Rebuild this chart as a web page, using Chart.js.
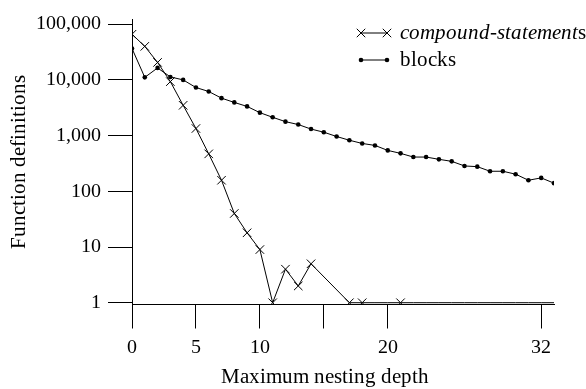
<!DOCTYPE html>
<html>
<head>
<meta charset="utf-8">
<script src="https://cdn.jsdelivr.net/npm/chart.js@4.4.1/dist/chart.umd.min.js"></script>
</head>
<body style="margin:0;padding:0;background:#ffffff;font-family:'Liberation Serif';font-size:20px">
<div style="width:586px;height:389px"><canvas id="chart" width="586" height="389"></canvas></div>
<script>
// Maximum nesting depth of each function, 0..33
const depths = [0, 1, 2, 3, 4, 5, 6, 7, 8, 9, 10, 11, 12, 13, 14, 15, 16,
                17, 18, 19, 20, 21, 22, 23, 24, 25, 26, 27, 28, 29, 30, 31, 32, 33];

// Function definitions whose deepest compound-statement nesting is this depth
// (null = not recorded, 0 = none found; drawn on the floor line without a marker)
const compoundStatements = [66000, 40000, 20600, 9300, 3500, 1340, 470, 158, 40, 18, 9,
                            1, 4, 2, 5, null, null, 1, 1, 0, 0, 1, 0, 0, 0, 0, 0,
                            0, 0, 0, 0, 0, 0, 0];

// Function definitions whose deepest block nesting is this depth
const blocks = [36600, 11100, 16400, 11300, 10000, 7290, 6190, 4700, 3940, 3340, 2580,
                2130, 1780, 1580, 1310, 1150, 964, 825, 723, 666, 542, 480, 412, 412,
                375, 345, 285, 277, 229, 229, 203, 158, 174, 140];

const seriesNames = ['compound-statements', 'blocks'];
// Legend text runs: the nonterminal name is set in italics, the plural "s" upright
const legendRuns = [
  [{ text: 'compound-statement', italic: true }, { text: 's', italic: false }],
  [{ text: 'blocks', italic: false }]
];

const xTickValues = [0, 5, 10, 15, 20, 32];
const xTickLabels = ['0', '5', '10', '', '20', '32'];
const yTickValues = [1, 10, 100, 1000, 10000, 100000];
const yTickLabels = ['1', '10', '100', '1,000', '10,000', '100,000'];

const xTitle = 'Maximum nesting depth';
const yTitle = 'Function definitions';

// Serif face registered from the locally installed font files
const FONT = "ChartSerif, 'Liberation Serif', Tinos, 'Times New Roman', serif";
const serifFaces = [
  new FontFace('ChartSerif',
    "local('Liberation Serif'), local('LiberationSerif'), local('Liberation Serif Regular'), local('Tinos'), local('Times New Roman')",
    { style: 'normal', weight: '400' }),
  new FontFace('ChartSerif',
    "local('Liberation Serif Italic'), local('LiberationSerif-Italic'), local('Tinos Italic'), local('Times New Roman Italic')",
    { style: 'italic', weight: '400' })
];

// Zero counts sit on the floor value 1 of the log axis
const floorAtOne = v => (v === null ? null : Math.max(v, 1));

const legendPlugin = {
  id: 'sampleLegend',
  afterDraw(chart) {
    const ctx = chart.ctx;
    const rows = [33, 60];
    const x0 = 361, x1 = 387, tx = 400;
    chart.data.datasets.forEach((ds, i) => {
      const y = rows[i];
      ctx.save();
      ctx.strokeStyle = '#000';
      ctx.fillStyle = '#000';
      ctx.lineWidth = 1;
      ctx.beginPath();
      ctx.moveTo(x0, y);
      ctx.lineTo(x1, y);
      ctx.stroke();
      const style = {
        pointStyle: ds.pointStyle,
        radius: ds.legendRadius,
        rotation: 0,
        borderWidth: ds.pointStyle === 'circle' ? 0 : 1
      };
      [x0, x1].forEach(px => Chart.helpers.drawPoint(ctx, style, px, y));
      ctx.textBaseline = 'middle';
      ctx.textAlign = 'left';
      let cx = tx;
      legendRuns[i].forEach(run => {
        ctx.font = (run.italic ? 'italic ' : '') + '21px ' + FONT;
        ctx.fillText(run.text, cx, y);
        cx += ctx.measureText(run.text).width;
      });
      ctx.restore();
    });
  }
};

const xTitlePlugin = {
  id: 'xTitle',
  afterDraw(chart) {
    const ctx = chart.ctx;
    ctx.save();
    ctx.font = '21px ' + FONT;
    ctx.fillStyle = '#000';
    ctx.textAlign = 'center';
    ctx.textBaseline = 'middle';
    ctx.fillText(xTitle, 325, 377);
    ctx.restore();
  }
};

let drawn = false;
function drawChart() {
  if (drawn) return;
  drawn = true;
  Chart.defaults.font.family = FONT;
  new Chart(document.getElementById('chart'), {
    type: 'line',
    data: {
      labels: depths,
      datasets: [
        {
          label: seriesNames[0],
          data: depths.map((d, i) => ({ x: d, y: floorAtOne(compoundStatements[i]) })),
          borderColor: '#000',
          backgroundColor: 'rgba(0,0,0,0)',
          borderWidth: 1,
          pointStyle: 'crossRot',
          pointRadius: depths.map((d, i) => (compoundStatements[i] ? 6 : 0)),
          pointBorderWidth: 1,
          pointBorderColor: '#000',
          legendRadius: 6,
          spanGaps: true,
          tension: 0
        },
        {
          label: seriesNames[1],
          data: depths.map((d, i) => ({ x: d, y: blocks[i] })),
          borderColor: '#000',
          backgroundColor: '#000',
          borderWidth: 1,
          pointStyle: 'circle',
          pointRadius: 2.3,
          pointBorderWidth: 0,
          pointBackgroundColor: '#000',
          legendRadius: 2.3,
          tension: 0
        }
      ]
    },
    options: {
      responsive: false,
      animation: false,
      devicePixelRatio: 1,
      layout: { padding: { top: 17, right: 32, left: 0, bottom: 0 } },
      plugins: {
        legend: { display: false },
        tooltip: { enabled: false }
      },
      scales: {
        x: {
          type: 'linear',
          min: 0,
          max: 33,
          afterFit(scale) { scale.height = 84.5; },
          afterBuildTicks(scale) { scale.ticks = xTickValues.map(v => ({ value: v })); },
          ticks: {
            autoSkip: false,
            maxRotation: 0,
            padding: 7,
            color: '#000',
            font: { family: FONT, size: 20 },
            callback: (v) => xTickLabels[xTickValues.indexOf(v)]
          },
          grid: { drawOnChartArea: false, drawTicks: true, tickLength: 24, color: '#000', lineWidth: 1 },
          border: { display: true, color: '#000', width: 1 },
          title: { display: false }
        },
        y: {
          type: 'logarithmic',
          min: 0.929,
          max: 123900,
          afterFit(scale) { scale.width = 132; },
          afterBuildTicks(scale) { scale.ticks = yTickValues.map(v => ({ value: v })); },
          ticks: {
            autoSkip: false,
            padding: 7,
            color: '#000',
            font: { family: FONT, size: 20 },
            callback: (v) => yTickLabels[yTickValues.indexOf(v)]
          },
          grid: { drawOnChartArea: false, drawTicks: true, tickLength: 24, color: '#000', lineWidth: 1 },
          border: { display: true, color: '#000', width: 1 },
          title: {
            display: true,
            text: yTitle,
            color: '#000',
            font: { family: FONT, size: 21 },
            padding: { top: 7, bottom: 0 }
          }
        }
      }
    },
    plugins: [legendPlugin, xTitlePlugin]
  });
}

// Draw once the serif faces are registered; draw anyway if they cannot be found
Promise.all(serifFaces.map(face =>
  face.load().then(f => { document.fonts.add(f); }).catch(() => {})
)).then(drawChart, drawChart);
setTimeout(drawChart, 400);
</script>
</body>
</html>
